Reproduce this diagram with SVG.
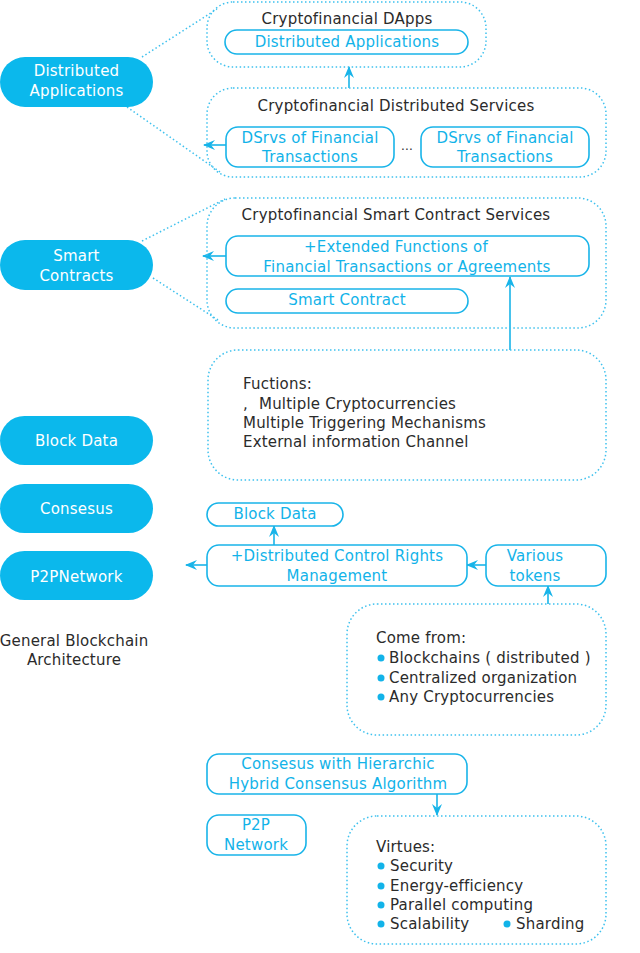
<svg xmlns="http://www.w3.org/2000/svg" width="640" height="953" viewBox="0 0 640 953">
<style>
text{font-family:"DejaVu Sans","Liberation Sans",sans-serif;font-size:15px;letter-spacing:0.2px}
.w{fill:#ffffff;text-anchor:middle}
.b{fill:#12b3e9;text-anchor:middle}
.k{fill:#2b2b2b}
.km{fill:#2b2b2b;text-anchor:middle}
.pill{fill:#0bb8ec}
.sb{fill:#ffffff;stroke:#18b4e9;stroke-width:1.6}
.db{fill:none;stroke:#3ec1ee;stroke-width:1.5;stroke-dasharray:1.5 2.5}
.dl{fill:none;stroke:#3ec1ee;stroke-width:1.5;stroke-dasharray:1.5 2.5}
.ar{fill:none;stroke:#18b4e9;stroke-width:1.6;marker-end:url(#ah)}
.dot{fill:#12b3e9}
</style>
<defs>
<marker id="ah" viewBox="0 0 12 10" refX="11" refY="5" markerWidth="12" markerHeight="10" markerUnits="userSpaceOnUse" orient="auto">
<path d="M0,0 L12,5 L0,10 L4,5 Z" fill="#18b4e9"/>
</marker>
</defs>
<rect width="640" height="953" fill="#ffffff"/>

<g id="connectors">
<path class="dl" d="M142,57 L217,9"/>
<path class="dl" d="M127,107 L220,172"/>
<path class="dl" d="M142,241 L225,199"/>
<path class="dl" d="M153,278 L218,320"/>
<path class="ar" d="M349,88 L349,67"/>
<path class="ar" d="M226,145 L204,145"/>
<path class="ar" d="M226,256 L203,256"/>
<path class="ar" d="M510,350 L510,277"/>
<path class="ar" d="M274,545 L274,526"/>
<path class="ar" d="M207,565 L186,565"/>
<path class="ar" d="M486,565 L467,565"/>
<path class="ar" d="M548,604 L548,586"/>
<path class="ar" d="M437,794 L437,815"/>
</g>

<g id="pill-dapps"><rect class="pill" x="0" y="57" width="153" height="50" rx="25"/>
<text class="w" x="76.5" y="76">Distributed</text><text class="w" x="76.5" y="96">Applications</text></g>
<g id="pill-smart"><rect class="pill" x="0" y="240" width="153" height="50" rx="25"/>
<text class="w" x="76.5" y="261">Smart</text><text class="w" x="76.5" y="281">Contracts</text></g>
<g id="pill-block"><rect class="pill" x="0" y="416" width="153" height="49" rx="24.5"/>
<text class="w" x="76.5" y="446">Block Data</text></g>
<g id="pill-consesus"><rect class="pill" x="0" y="484" width="153" height="49" rx="24.5"/>
<text class="w" x="76.5" y="514">Consesus</text></g>
<g id="pill-p2p"><rect class="pill" x="0" y="551" width="153" height="49" rx="24.5"/>
<text class="w" x="76.5" y="582">P2PNetwork</text></g>
<g id="label-general"><text class="km" x="74" y="646">General Blockchain</text><text class="km" x="74" y="665">Architecture</text></g>

<g id="box-dapps"><rect class="db" x="207" y="2" width="279" height="65" rx="26"/>
<text class="km" x="347" y="24">Cryptofinancial DApps</text>
<rect class="sb" x="225" y="30" width="243" height="24" rx="12"/>
<text class="b" x="347" y="47">Distributed Applications</text></g>

<g id="box-dsrv"><rect class="db" x="207" y="88" width="399" height="89" rx="26"/>
<text class="km" x="396" y="111">Cryptofinancial Distributed Services</text>
<rect class="sb" x="226" y="127" width="168" height="40" rx="12"/>
<text class="b" x="310" y="143">DSrvs of Financial</text><text class="b" x="310" y="162">Transactions</text>
<text class="km" x="407" y="150" style="font-size:12px">...</text>
<rect class="sb" x="421" y="127" width="168" height="40" rx="12"/>
<text class="b" x="505" y="143">DSrvs of Financial</text><text class="b" x="505" y="162">Transactions</text></g>

<g id="box-smart"><rect class="db" x="207" y="198" width="399" height="130" rx="28"/>
<text class="km" x="396" y="220">Cryptofinancial Smart Contract Services</text>
<rect class="sb" x="226" y="236" width="363" height="40" rx="12"/>
<text class="b" x="396" y="252">+Extended Functions of</text><text class="b" x="407" y="272">Financial Transactions or Agreements</text>
<rect class="sb" x="226" y="289" width="242" height="24" rx="12"/>
<text class="b" x="347" y="305">Smart Contract</text></g>

<g id="box-functions"><rect class="db" x="208" y="350" width="398" height="130" rx="30"/>
<text class="k" x="243" y="389">Fuctions:</text>
<text class="k" x="243" y="409">,</text><text class="k" x="259" y="409">Multiple Cryptocurrencies</text>
<text class="k" x="243" y="428">Multiple Triggering Mechanisms</text>
<text class="k" x="243" y="447">External information Channel</text></g>

<g id="box-blockdata"><rect class="sb" x="207" y="503" width="136" height="23" rx="11.5"/>
<text class="b" x="275" y="519">Block Data</text></g>
<g id="box-control"><rect class="sb" x="207" y="545" width="260" height="41" rx="12"/>
<text class="b" x="337" y="561">+Distributed Control Rights</text><text class="b" x="337" y="581">Management</text></g>
<g id="box-tokens"><rect class="sb" x="486" y="545" width="120" height="41" rx="12"/>
<text class="b" x="535" y="561">Various</text><text class="b" x="535" y="581">tokens</text></g>

<g id="box-comefrom"><rect class="db" x="347" y="604" width="259" height="131" rx="30"/>
<text class="k" x="376" y="643">Come from:</text>
<circle class="dot" cx="381" cy="658" r="3.5"/><text class="k" x="389" y="663">Blockchains ( distributed )</text>
<circle class="dot" cx="381" cy="678" r="3.5"/><text class="k" x="389" y="683">Centralized organization</text>
<circle class="dot" cx="381" cy="697" r="3.5"/><text class="k" x="389" y="702">Any Cryptocurrencies</text></g>

<g id="box-consensus"><rect class="sb" x="207" y="754" width="260" height="40" rx="12"/>
<text class="b" x="338" y="769">Consesus with Hierarchic</text><text class="b" x="338" y="789">Hybrid Consensus Algorithm</text></g>
<g id="box-p2p"><rect class="sb" x="207" y="815" width="99" height="40" rx="12"/>
<text class="b" x="256" y="830">P2P</text><text class="b" x="256" y="850">Network</text></g>

<g id="box-virtues"><rect class="db" x="347" y="816" width="259" height="128" rx="30"/>
<text class="k" x="376" y="852">Virtues:</text>
<circle class="dot" cx="381" cy="866" r="3.5"/><text class="k" x="390" y="871">Security</text>
<circle class="dot" cx="381" cy="886" r="3.5"/><text class="k" x="390" y="891">Energy-efficiency</text>
<circle class="dot" cx="381" cy="905" r="3.5"/><text class="k" x="390" y="910">Parallel computing</text>
<circle class="dot" cx="381" cy="924" r="3.5"/><text class="k" x="390" y="929">Scalability</text>
<circle class="dot" cx="507" cy="924" r="3.5"/><text class="k" x="516" y="929">Sharding</text></g>
</svg>
